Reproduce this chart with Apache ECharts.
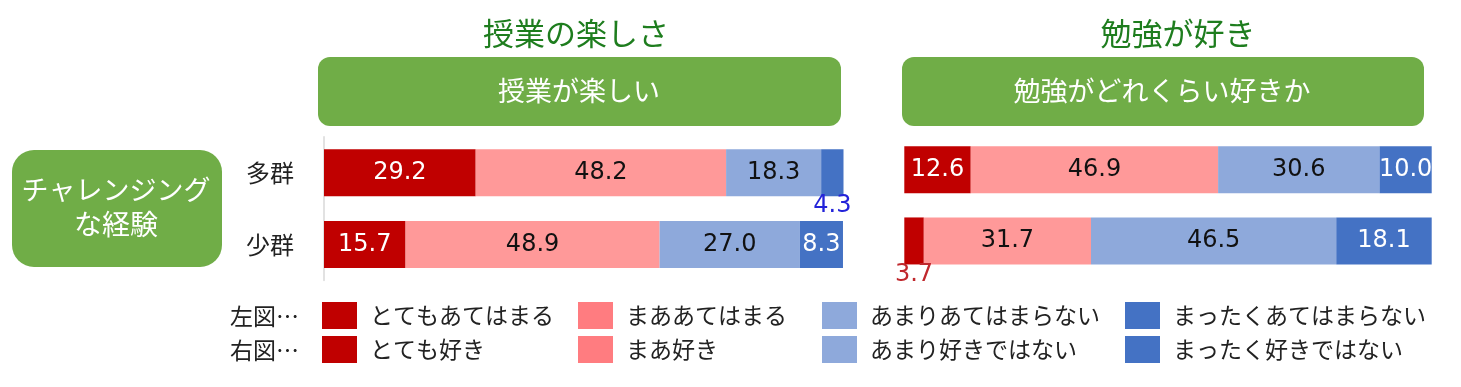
<!DOCTYPE html>
<html><head><meta charset="utf-8">
<script src="https://cdn.jsdelivr.net/npm/echarts@6/dist/echarts.min.js"></script>
<style>html,body{margin:0;padding:0;background:#fff}#c{width:1461px;height:387px}</style>
</head><body><div id="c"></div>
<script>
// ---- data ----
const groups = ['多群', '少群'];
const leftTitle = '授業の楽しさ';
const rightTitle = '勉強が好き';
const leftQuestion = '授業が楽しい';
const rightQuestion = '勉強がどれくらい好きか';
const sideLabel = ['チャレンジング', 'な経験'];
const legendRowLabels = ['左図…', '右図…'];
const leftNames = ['とてもあてはまる', 'まああてはまる', 'あまりあてはまらない', 'まったくあてはまらない'];
const rightNames = ['とても好き', 'まあ好き', 'あまり好きではない', 'まったく好きではない'];
const leftVeryYes = [29.2, 15.7];
const leftRatherYes = [48.2, 48.9];
const leftRatherNo = [18.3, 27.0];
const leftNotAtAll = [4.3, 8.3];
const rightVeryLike = [12.6, 3.7];
const rightRatherLike = [46.9, 31.7];
const rightRatherDislike = [30.6, 46.5];
const rightNotAtAll = [10.0, 18.1];

// ---- styles ----
const FONT = '"Noto Sans CJK JP", "Noto Sans", sans-serif';
const NUMFONT = '"DejaVu Sans", sans-serif';
const barColors = ['#C00000', '#FF9999', '#8EA9DB', '#4472C4'];
const legendColors = ['#C00000', '#FF7C80', '#8EA9DB', '#4472C4'];
const labelColors = ['#ffffff', '#111111', '#111111', '#ffffff'];
const outsideLeft = ['#C00000', '#111', '#111', '#2323D9'];
const outsideRight = ['#C0282D', '#111', '#111', '#2323D9'];
const GREEN = '#70AD47';
const TITLE_GREEN = '#1E7D1E';

const leftData = [leftVeryYes, leftRatherYes, leftRatherNo, leftNotAtAll];
const rightData = [rightVeryLike, rightRatherLike, rightRatherDislike, rightNotAtAll];

function makeSeries(names, data, idx, stack, outsideColors) {
  return names.map((n, i) => ({
    name: n, type: 'bar', stack: stack, xAxisIndex: idx, yAxisIndex: idx,
    barWidth: 47,
    itemStyle: { color: barColors[i] },
    label: { show: true, position: 'inside', color: labelColors[i], fontSize: 24, fontFamily: NUMFONT,
      formatter: p => p.value.toFixed(1) },
    data: data[i].map(v => v < 5 ? {
      value: v,
      label: { position: 'bottom', distance: -2, color: outsideColors[i] }
    } : v),
    animation: false
  }));
}

const chart = echarts.init(document.getElementById('c'), null, { renderer: 'canvas' });
const legendX = [322, 578, 822, 1125];

chart.setOption({
  animation: false,
  grid: [
    { left: 324, top: 136.8, width: 519.5, height: 143.6 },
    { left: 904.3, top: 134, width: 527.4, height: 142.6 }
  ],
  xAxis: [
    { gridIndex: 0, type: 'value', min: 0, max: 100, show: false },
    { gridIndex: 1, type: 'value', min: 0, max: 100, show: false }
  ],
  yAxis: [
    { gridIndex: 0, type: 'category', inverse: true, data: groups,
      axisLine: { show: true, lineStyle: { color: '#D9D9D9', width: 1.5 } },
      axisTick: { show: false },
      axisLabel: { margin: 30, fontSize: 24, color: '#222', fontFamily: FONT } },
    { gridIndex: 1, type: 'category', inverse: true, data: groups, show: false }
  ],
  legend: legendX.map((x, i) => ({
    orient: 'vertical', left: x, top: 302, padding: 0,
    itemWidth: 35, itemHeight: 27, itemGap: 7, icon: 'rect', selectedMode: false,
    data: [
      { name: leftNames[i], itemStyle: { color: legendColors[i] } },
      { name: rightNames[i], itemStyle: { color: legendColors[i] } }
    ],
    textStyle: { fontSize: 23, color: '#222', fontFamily: FONT, padding: [0, 0, 0, 8] }
  })),
  graphic: [
    { type: 'text', x: 576, y: 33, style: { text: leftTitle, fontSize: 31, fontFamily: FONT, fill: TITLE_GREEN, align: 'center', verticalAlign: 'middle' } },
    { type: 'text', x: 1178, y: 33, style: { text: rightTitle, fontSize: 31, fontFamily: FONT, fill: TITLE_GREEN, align: 'center', verticalAlign: 'middle' } },
    { type: 'rect', shape: { x: 318, y: 57, width: 523, height: 69, r: 12 }, style: { fill: GREEN } },
    { type: 'rect', shape: { x: 902, y: 57, width: 522, height: 69, r: 12 }, style: { fill: GREEN } },
    { type: 'text', x: 579, y: 91, style: { text: leftQuestion, fontSize: 27, fontFamily: FONT, fill: '#fff', align: 'center', verticalAlign: 'middle' } },
    { type: 'text', x: 1162, y: 91, style: { text: rightQuestion, fontSize: 27, fontFamily: FONT, fill: '#fff', align: 'center', verticalAlign: 'middle' } },
    { type: 'rect', shape: { x: 12, y: 150, width: 210, height: 117, r: 22 }, style: { fill: GREEN } },
    { type: 'text', x: 116, y: 190, style: { text: sideLabel[0], fontSize: 27, fontFamily: FONT, fill: '#fff', align: 'center', verticalAlign: 'middle' } },
    { type: 'text', x: 116, y: 224, style: { text: sideLabel[1], fontSize: 28, fontFamily: FONT, fill: '#fff', align: 'center', verticalAlign: 'middle' } },
    { type: 'text', x: 230, y: 316, style: { text: legendRowLabels[0], fontSize: 23, fontFamily: FONT, fill: '#222', align: 'left', verticalAlign: 'middle' } },
    { type: 'text', x: 230, y: 350, style: { text: legendRowLabels[1], fontSize: 23, fontFamily: FONT, fill: '#222', align: 'left', verticalAlign: 'middle' } }
  ],
  series: [
    ...makeSeries(leftNames, leftData, 0, 'L', outsideLeft),
    ...makeSeries(rightNames, rightData, 1, 'R', outsideRight)
  ]
});
</script>
</body></html>
